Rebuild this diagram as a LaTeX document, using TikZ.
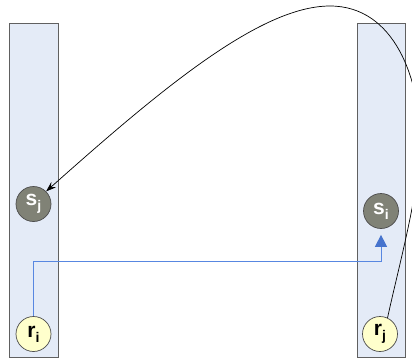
\documentclass[tikz,border=0pt]{standalone}
\usepackage{fontspec}
\setmainfont{Liberation Sans}
\usepackage{xcolor}
\usetikzlibrary{positioning, arrows.meta, calc}

\definecolor{barfill}{RGB}{228,235,247}
\definecolor{bardraw}{RGB}{96,96,96}
\definecolor{sfill}{RGB}{128,130,118}
\definecolor{rfill}{RGB}{255,255,204}
\definecolor{linkblue}{RGB}{88,135,225}
\definecolor{tipblue}{RGB}{70,115,205}

% station label with a lowered subscript
\newcommand{\stlab}[2]{#1\raisebox{-5pt}{\fontsize{14}{14}\selectfont #2}}

\begin{document}
\begin{tikzpicture}[
    x=1pt, y=-1pt,
    bar/.style={draw=bardraw, fill=barfill, line width=0.9pt},
    stn/.style={circle, draw=black!70, line width=0.7pt, minimum size=35pt,
                inner sep=0pt, font=\fontsize{21}{21}\selectfont\bfseries},
    snd/.style={stn, fill=sfill, text=white},
    rcv/.style={stn, fill=rfill, text=black},
    blink/.style={draw=linkblue, line width=1pt,
                  -{Triangle[length=12pt, width=12pt, color=tipblue]}, shorten >=6pt},
    arc/.style={draw=black, line width=0.7pt, -{Stealth[length=10pt, width=7pt]}},
]
\useasboundingbox (0,0) rectangle (412,361);

% Two columns
\draw[bar] (9,23) rectangle (58,357);
\draw[bar] (357,23) rectangle (405,357);

% Stations
\node[snd] (sj) at (33.5,204) {\stlab{s}{j}};
\node[rcv] (ri) at (33.5,334) {\stlab{r}{i}};
\node[snd] (si) at (381,211) {\stlab{s}{i}};
\node[rcv] (rj) at (380,334) {\stlab{r}{j}};

% Forward link (blue)
\draw[blink] (ri.north) -- ++(0,-55) -| (si.south);

% Return path (black, leaves the frame on the right)
\draw[arc] (rj.65) .. controls (399,265) and (420,190) .. (420,140)
                   .. controls (420,80) and (395,6) .. (330,6)
                   .. controls (260,6) and (160,90) .. (sj.45);

\end{tikzpicture}
\end{document}
